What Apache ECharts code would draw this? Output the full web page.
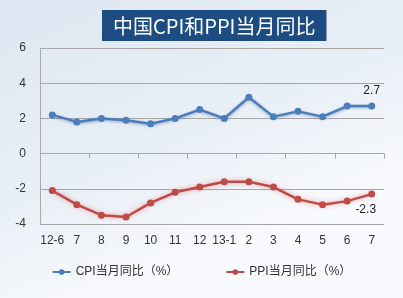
<!DOCTYPE html>
<html>
<head>
<meta charset="utf-8">
<script src="https://cdn.jsdelivr.net/npm/echarts@6/dist/echarts.min.js"></script>
<style>html,body{margin:0;padding:0;}#c{width:403px;height:298px;}</style>
</head>
<body>
<div id="c"></div>
<script>
var categories = ['12-6','7','8','9','10','11','12','13-1','2','3','4','5','6','7'];
var cpiValues = [2.2, 1.8, 2.0, 1.9, 1.7, 2.0, 2.5, 2.0, 3.2, 2.1, 2.4, 2.1, 2.7, 2.7];
var ppiValues = [-2.1, -2.9, -3.5, -3.6, -2.8, -2.2, -1.9, -1.6, -1.6, -1.9, -2.6, -2.9, -2.7, -2.3];
var cpiName = 'CPI当月同比（%）';
var ppiName = 'PPI当月同比（%）';
var titleText = '中国CPI和PPI当月同比';

var FONT = '"Liberation Sans", "Noto Sans CJK SC", sans-serif';
var chart = echarts.init(document.getElementById('c'));

function withLastLabel(values, pos) {
  return values.map(function (v, i) {
    if (i === values.length - 1) {
      return { value: v, label: { show: true, position: pos } };
    }
    return v;
  });
}

chart.setOption({
  backgroundColor: {
    type: 'linear', x: 0, y: 0, x2: 0.3, y2: 1,
    colorStops: [
      { offset: 0, color: '#dde6f1' },
      { offset: 0.6, color: '#e9eff6' },
      { offset: 1, color: '#f8fafd' }
    ]
  },
  animation: false,
  textStyle: { fontFamily: FONT },
  title: {
    text: titleText,
    left: 102,
    top: 10,
    padding: [4, 11, 3, 11],
    backgroundColor: '#1d4c82',
    textStyle: {
      color: '#ffffff',
      fontSize: 20,
      fontWeight: 'normal',
      fontFamily: '"Noto Sans CJK SC", "DejaVu Sans", sans-serif',
      lineHeight: 24
    }
  },
  legend: {
    bottom: 15,
    left: 'center',
    itemGap: 47,
    itemWidth: 18,
    itemHeight: 7,
    textStyle: { color: '#333', fontSize: 12, fontFamily: FONT },
    data: [cpiName, ppiName]
  },
  grid: { left: 40, right: 19, top: 48, bottom: 74 },
  xAxis: [
    {
      type: 'category',
      data: categories,
      position: 'bottom',
      axisLine: { show: true, onZero: true, lineStyle: { color: '#a9a9a9', width: 1 } },
      axisTick: { show: true, length: 5, lineStyle: { color: '#a9a9a9' } },
      axisLabel: { show: false }
    },
    {
      type: 'category',
      data: categories,
      position: 'bottom',
      axisLine: { show: false, onZero: false },
      axisTick: { show: false },
      axisLabel: { show: true, color: '#333', fontSize: 12, margin: 11, interval: 0, fontFamily: FONT }
    }
  ],
  yAxis: {
    type: 'value',
    min: -4,
    max: 6,
    interval: 2,
    axisLine: { show: true, lineStyle: { color: '#a9a9a9' } },
    axisTick: { show: false },
    axisLabel: { color: '#333', fontSize: 12, margin: 14, fontFamily: FONT },
    splitLine: { lineStyle: { color: '#a6a6a6', width: 1 } }
  },
  series: [
    {
      name: cpiName,
      type: 'line',
      xAxisIndex: 0,
      data: withLastLabel(cpiValues, 'top'),
      symbol: 'circle',
      symbolSize: 7,
      itemStyle: { color: '#4a7ebb' },
      lineStyle: { color: '#4a7ebb', width: 2.5, shadowColor: 'rgba(40,80,140,0.45)', shadowBlur: 3, shadowOffsetY: 1 },
      label: { color: '#222', fontSize: 12, distance: 6 }
    },
    {
      name: ppiName,
      type: 'line',
      xAxisIndex: 0,
      data: withLastLabel(ppiValues, 'bottom'),
      symbol: 'circle',
      symbolSize: 7,
      itemStyle: { color: '#be4b48' },
      lineStyle: { color: '#be4b48', width: 2.5, shadowColor: 'rgba(220,80,80,0.55)', shadowBlur: 5 },
      label: { color: '#222', fontSize: 12, distance: 6, offset: [-6, 0] }
    }
  ]
});
</script>
</body>
</html>
